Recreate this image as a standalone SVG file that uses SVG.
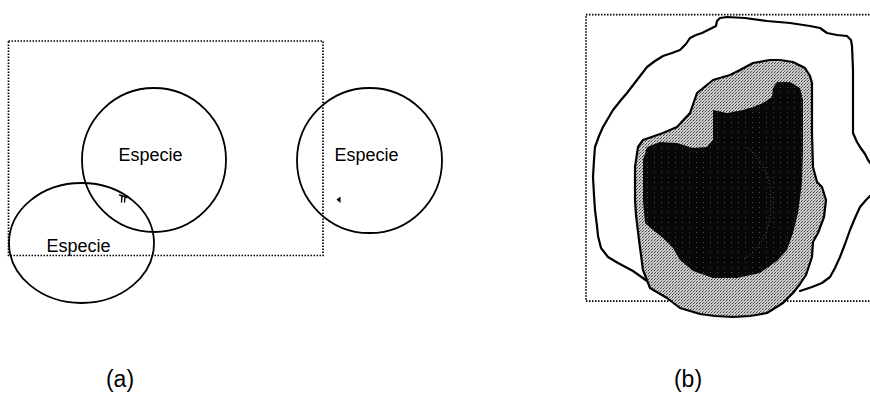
<svg xmlns="http://www.w3.org/2000/svg" width="870" height="395" viewBox="0 0 870 395">
  <style>
    .frame { fill: none; stroke: #000; stroke-width: 1.7; stroke-dasharray: 1.5 1.5; }
    .range { fill: none; stroke: #000; stroke-width: 1.8; }
    .lbl { font-family: "Liberation Sans", Arial, sans-serif; font-size: 18px; fill: #000; text-anchor: middle; }
    .cap { font-family: "Liberation Sans", Arial, sans-serif; font-size: 23px; fill: #000; text-anchor: middle; }
    .outline { fill: none; stroke: #000; stroke-width: 2.2; stroke-linejoin: round; stroke-linecap: round; }
    .mark { fill: none; stroke: #000; stroke-width: 1.4; stroke-linecap: round; }
  </style>
  <defs>
    <!-- halftone stipple for the intermediate zone -->
    <pattern id="stipple" width="3" height="3" patternUnits="userSpaceOnUse">
      <rect width="3" height="3" fill="#cdcdcd"/>
      <rect x="0" y="0" width="1" height="1" fill="#3a3a3a"/>
      <rect x="1" y="2" width="1" height="1" fill="#5a5a5a"/>
      <rect x="2" y="1" width="1" height="1" fill="#9a9a9a"/>
    </pattern>
    <!-- dense core with sparse light specks -->
    <pattern id="core" width="7" height="5" patternUnits="userSpaceOnUse">
      <rect width="7" height="5" fill="#080808"/>
      <rect x="3" y="2" width="1" height="1" fill="#4a4a4a"/>
    </pattern>
  </defs>

  <!-- (a) species ranges against a study area -->
  <g id="panel-a">
    <rect id="area-a" class="frame" x="8.5" y="41" width="314.5" height="214.5"/>
    <g id="species-1">
      <circle class="range" cx="154" cy="160" r="72"/>
      <text class="lbl" x="150.5" y="160.5">Especie</text>
    </g>
    <g id="species-2">
      <ellipse class="range" cx="81.5" cy="243" rx="72.5" ry="60"/>
      <text class="lbl" x="78.5" y="252">Especie</text>
    </g>
    <g id="species-3">
      <circle class="range" cx="369.5" cy="160.5" r="72.5"/>
      <text class="lbl" x="366.5" y="161">Especie</text>
    </g>
    <g id="marks">
      <path class="mark" d="M119.5 195 L127 197.5 M122 196 L121.5 202 M125 197 L124.5 202"/>
      <path d="M336.5 199.5 L340.5 196.5 L340.5 203 Z" fill="#000"/>
    </g>
    <text class="cap" x="120" y="387">(a)</text>
  </g>

  <!-- (b) nested occurrence zones -->
  <g id="panel-b">
    <rect id="area-b" class="frame" x="586" y="14.7" width="300" height="286.5"/>
    <g id="zone-outer">
      <path class="outline" d="M655 287 L647 281 L633 271 L618 263 L608 257 L601 248 L598 236 L597 226 L595 210 L594 195 L593 177 L594 160 L595 147 L599 136 L603 127 L613 110 L621 100 L627 93 L637 80 L647 67 L655 61 L663 56 L672 53 L680 50 L686 44 L690 38 L696 35 L702 33 L710 29 L716 26 L717 21 L720 18 L727 17 L745 18 L767 21 L790 23 L810 26 L820 28 L827 33 L837 35 L847 36 L851 40 L852 46 L853 70 L853 100 L853 133 L857 142 L860 147 L865 154 L868 160 L874 168 M874 192 L866 200 L860 207 L855 218 L850 230 L845 244 L840 257 L835 268 L830 277 L822 283 L812 287 L800 291"/>
    </g>
    <g id="zone-middle">
      <path fill="url(#stipple)" stroke="#000" stroke-width="2.2" stroke-linejoin="round" d="M740 70 L753 63 L770 60 L780 60 L793 62 L805 68 L810 76 L812 83 L812 110 L812 133 L813 167 L817 182 L822 187 L826 200 L824 217 L818 233 L813 242 L812 257 L806 275 L800 284 L793 293 L783 303 L767 313 L750 316 L733 317 L715 316 L700 314 L680 308 L667 298 L650 288 L643 270 L639 240 L636 215 L635 200 L635 167 L638 147 L643 140 L663 133 L677 127 L690 113 L697 93 L713 80 L730 75 Z"/>
    </g>
    <g id="zone-core">
      <path fill="url(#core)" d="M777 82 L790 82 L800 88 L803 100 L803 150 L802 183 L798 213 L793 233 L787 250 L777 261 L760 273 L737 278 L713 278 L693 271 L680 260 L673 248 L663 238 L653 230 L645 223 L643 200 L643 160 L647 147 L660 142 L677 143 L693 148 L707 147 L713 140 L713 110 L727 113 L743 110 L753 107 L763 103 L772 97 L773 88 Z"/>
      <path fill="none" stroke="#6a6a6a" stroke-width="1" stroke-dasharray="1 2.5" d="M748 148 Q762 160 768 177 Q774 200 768 227 Q762 247 743 260"/>
    </g>
    <text class="cap" x="688" y="387">(b)</text>
  </g>
</svg>
